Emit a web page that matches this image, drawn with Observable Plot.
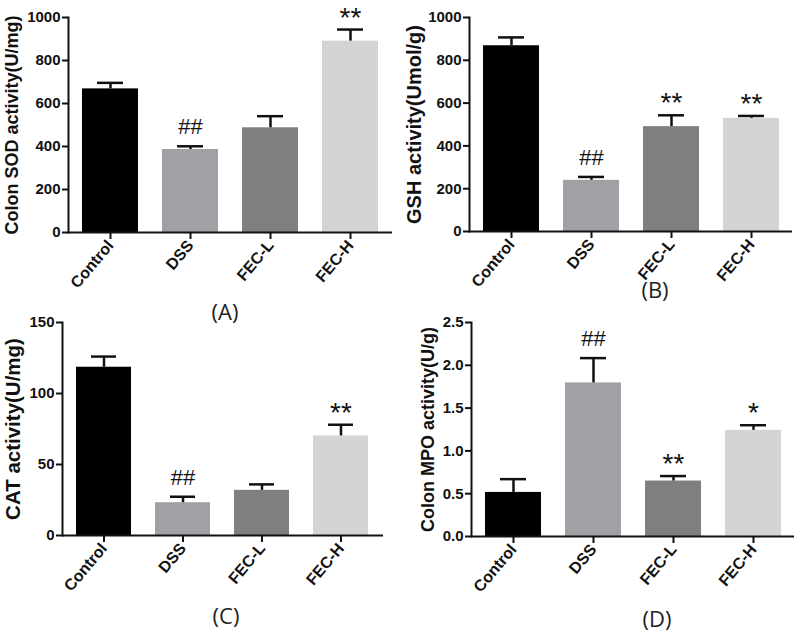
<!DOCTYPE html>
<html><head><meta charset="utf-8">
<script src="https://cdn.jsdelivr.net/npm/d3@7"></script>
<script src="https://cdn.jsdelivr.net/npm/@observablehq/plot@0.6"></script>
<style>
body{margin:0;background:#fff;}
#root{position:relative;width:794px;height:637px;overflow:hidden;font-family:"Liberation Sans",Arial,sans-serif;}
.panel{position:absolute;}
.cap{position:absolute;transform:translate(-50%,-50%);font-size:22px;color:#222;white-space:nowrap;font-family:"Open Sans","Liberation Sans",Arial,sans-serif;}
</style></head><body><div id="root"></div>
<script>
// ---- data ----
const groups = ["Control", "DSS", "FEC-L", "FEC-H"];
const groupColors = ["#000000", "#a1a1a5", "#7f7f7f", "#d4d4d4"];

const sodMean = [668, 386, 487, 890];
const sodSem = [28, 15, 54, 54];
const sodSig = ["", "##", "", "**"];
const sodTicks = [0, 200, 400, 600, 800, 1000];

const gshMean = [868, 239, 490, 529];
const gshSem = [39, 16, 53, 11];
const gshSig = ["", "##", "**", "**"];
const gshTicks = [0, 200, 400, 600, 800, 1000];

const catMean = [118.5, 23.1, 31.8, 70.1];
const catSem = [7.5, 4.2, 4.2, 7.9];
const catSig = ["", "##", "", "**"];
const catTicks = [0, 50, 100, 150];

const mpoMean = [0.515, 1.794, 0.648, 1.24];
const mpoSem = [0.155, 0.29, 0.058, 0.06];
const mpoSig = ["", "##", "**", "*"];
const mpoTicks = [0, 0.5, 1.0, 1.5, 2.0, 2.5];

const panels = [
  {id: "(A)", label: "Colon SOD activity(U/mg)", mean: sodMean, sem: sodSem, sig: sodSig, ticks: sodTicks, fmt: d3.format("d"),
   left: 0, top: 0, width: 397, height: 300, mL: 68, mR: 5, mT: 17, mB: 68, labelSize: 18, labelOffset: 63, capX: 225, capY: 311},
  {id: "(B)", label: "GSH activity(Umol/g)", mean: gshMean, sem: gshSem, sig: gshSig, ticks: gshTicks, fmt: d3.format("d"),
   left: 397, top: 0, width: 397, height: 300, mL: 72, mR: 2, mT: 17, mB: 69, labelSize: 20, labelOffset: 63, capX: 655, capY: 289},
  {id: "(C)", label: "CAT activity(U/mg)", mean: catMean, sem: catSem, sig: catSig, ticks: catTicks, fmt: d3.format("d"),
   left: 0, top: 300, width: 397, height: 300, mL: 62, mR: 14, mT: 22, mB: 65, labelSize: 20.5, labelOffset: 57, capX: 226, capY: 615},
  {id: "(D)", label: "Colon MPO activity(U/g)", mean: mpoMean, sem: mpoSem, sig: mpoSig, ticks: mpoTicks, fmt: d3.format(".1f"),
   left: 397, top: 300, width: 397, height: 300, mL: 74, mR: 0, mT: 22, mB: 64, labelSize: 18, labelOffset: 50, capX: 657, capY: 618}
];

const root = document.getElementById("root");

for (const p of panels) {
  const rows = groups.map((g, i) => ({group: g, mean: p.mean[i], upper: p.mean[i] + p.sem[i], sig: p.sig[i]}));
  const hashRows = rows.filter(r => r.sig.startsWith("#"));
  const starRows = rows.filter(r => r.sig.startsWith("*"));
  const chart = Plot.plot({
    width: p.width, height: p.height,
    marginLeft: p.mL, marginRight: p.mR, marginTop: p.mT, marginBottom: p.mB,
    style: {fontFamily: "Liberation Sans, Arial, sans-serif", fontWeight: "bold", background: "transparent", color: "#111", overflow: "visible"},
    x: {domain: groups, paddingInner: 0.3, paddingOuter: 0.16, label: null},
    y: {domain: [p.ticks[0], p.ticks[p.ticks.length - 1]], label: null},
    color: {domain: groups, range: groupColors},
    marks: [
      Plot.barY(rows, {x: "group", y: "mean", fill: "group"}),
      Plot.ruleX(rows, {x: "group", y1: "mean", y2: "upper", stroke: "#111", strokeWidth: 2.5}),
      Plot.tickY(rows, {x: "group", y: "upper", stroke: "#111", strokeWidth: 2.5, insetLeft: 15, insetRight: 15}),
      Plot.text(hashRows, {x: "group", y: "upper", text: "sig", lineAnchor: "bottom", dy: -12, fontSize: 22, fontWeight: "normal", fill: "#111"}),
      Plot.text(starRows, {x: "group", y: "upper", text: "sig", lineAnchor: "bottom", dy: -3, fontSize: 28, fontWeight: "normal", fill: "#111"}),
      Plot.ruleY([0], {stroke: "#111", strokeWidth: 2}),
      Plot.frame({anchor: "left", stroke: "#111", strokeWidth: 2}),
      Plot.axisY({ticks: p.ticks, tickFormat: p.fmt, tickSize: 6, tickPadding: 2, strokeWidth: 2, fontSize: 15, label: null, labelArrow: "none"}),
      Plot.axisY({ticks: [], tickSize: 0, label: p.label, labelArrow: "none", labelAnchor: "center", labelOffset: p.labelOffset, fontSize: p.labelSize}),
      Plot.axisX({tickSize: 7, tickPadding: 3, tickRotate: -50, strokeWidth: 2, fontSize: 16, label: null, labelArrow: "none"})
    ]
  });
  const div = document.createElement("div");
  div.className = "panel";
  div.style.left = p.left + "px";
  div.style.top = p.top + "px";
  div.appendChild(chart);
  root.appendChild(div);
  const cap = document.createElement("div");
  cap.className = "cap";
  cap.style.left = p.capX + "px";
  cap.style.top = p.capY + "px";
  cap.textContent = p.id;
  root.appendChild(cap);
}
</script>
</body></html>
